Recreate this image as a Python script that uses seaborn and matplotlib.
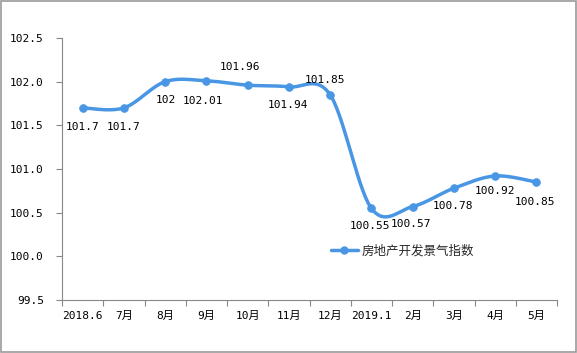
import numpy as np
import matplotlib
matplotlib.use("Agg")
import matplotlib.pyplot as plt
import seaborn as sns
from matplotlib.lines import Line2D
from matplotlib.patches import Rectangle

months = ["2018.6", "7月", "8月", "9月", "10月", "11月", "12月", "2019.1", "2月", "3月", "4月", "5月"]
values = [101.7, 101.7, 102.0, 102.01, 101.96, 101.94, 101.85, 100.55, 100.57, 100.78, 100.92, 100.85]
value_labels = ["101.7", "101.7", "102", "102.01", "101.96", "101.94", "101.85", "100.55", "100.57", "100.78", "100.92", "100.85"]
series_name = "房地产开发景气指数"
yticks = [99.5, 100.0, 100.5, 101.0, 101.5, 102.0, 102.5]

# label offsets in pixels (dx, dy)
label_offsets = [(0, -19), (0, -19), (1, -18), (-3, -20), (-8, 18), (-1, -18), (-5, 15),
                 (-1, -18), (-2, -17), (-1, -18), (0, -15), (-1, -20)]

sns.set_theme(style="white")
plt.rcParams["font.family"] = ["DejaVu Sans Mono", "Noto Sans CJK SC"]

color = "#4896e4"

fig = plt.figure(figsize=(5.77, 3.53), dpi=100)
ax = fig.add_axes([62/577, 1-300/353, (557-62)/577, (300-38)/353])

x = np.arange(len(values))
y = np.array(values)

# Catmull-Rom smoothing
def catmull_rom(xs, ys, n=30):
    px, py = [], []
    N = len(xs)
    for i in range(N - 1):
        p0 = (xs[max(i-1, 0)], ys[max(i-1, 0)])
        p1 = (xs[i], ys[i])
        p2 = (xs[i+1], ys[i+1])
        p3 = (xs[min(i+2, N-1)], ys[min(i+2, N-1)])
        t = np.linspace(0, 1, n, endpoint=(i == N-2))
        for arr, k in ((px, 0), (py, 1)):
            a0, a1, a2, a3 = p0[k], p1[k], p2[k], p3[k]
            arr.extend(0.5 * ((2*a1) + (-a0 + a2)*t + (2*a0 - 5*a1 + 4*a2 - a3)*t**2 + (-a0 + 3*a1 - 3*a2 + a3)*t**3))
    return np.array(px), np.array(py)

sx, sy = catmull_rom(x.astype(float), y)
ax.plot(sx, sy, color=color, lw=2.5, solid_capstyle="round", zorder=2)
sns.scatterplot(x=x, y=y, color=color, s=32, edgecolor=color, ax=ax, zorder=3, legend=False)

for xi, yi, lab, (dx, dy) in zip(x, y, value_labels, label_offsets):
    ax.annotate(lab, (xi, yi), xytext=(dx, dy), textcoords="offset pixels",
                ha="center", va="center", fontsize=8, color="black")

ax.set_xlim(-0.5, len(values) - 0.5)
ax.set_ylim(99.5, 102.5)
ax.set_yticks(yticks)
ax.set_yticklabels([f"{v:.1f}" for v in yticks])
ax.set_xticks(x)
ax.set_xticklabels(months)
ax.set_xticks(np.arange(-0.5, len(values), 1.0), minor=True)
ax.tick_params(axis="x", which="major", length=0, pad=8, labelsize=8, colors="black")
ax.tick_params(axis="x", which="minor", length=4, width=0.8, color="#888888", direction="out", bottom=True)
ax.tick_params(axis="y", which="major", length=4, width=0.8, color="#888888", direction="out", left=True,
               labelsize=8, pad=9, colors="black")

for s in ["top", "right"]:
    ax.spines[s].set_visible(False)
for s in ["left", "bottom"]:
    ax.spines[s].set_color("#888888")
    ax.spines[s].set_linewidth(0.8)

handle = Line2D([0], [0], color=color, lw=2.5, marker="o", markersize=5)
leg = ax.legend([handle], [series_name], loc="center left", bbox_to_anchor=(0.52, 0.187),
                frameon=False, handlelength=2.2, handletextpad=0.3,
                prop={"family": ["Noto Sans CJK SC", "DejaVu Sans"], "size": 9})

fig.patches.append(Rectangle((0.001, 0.002), 0.997, 0.995, transform=fig.transFigure,
                             fill=False, edgecolor="#999999", lw=1.2))

fig.savefig("out.png", dpi=100)
